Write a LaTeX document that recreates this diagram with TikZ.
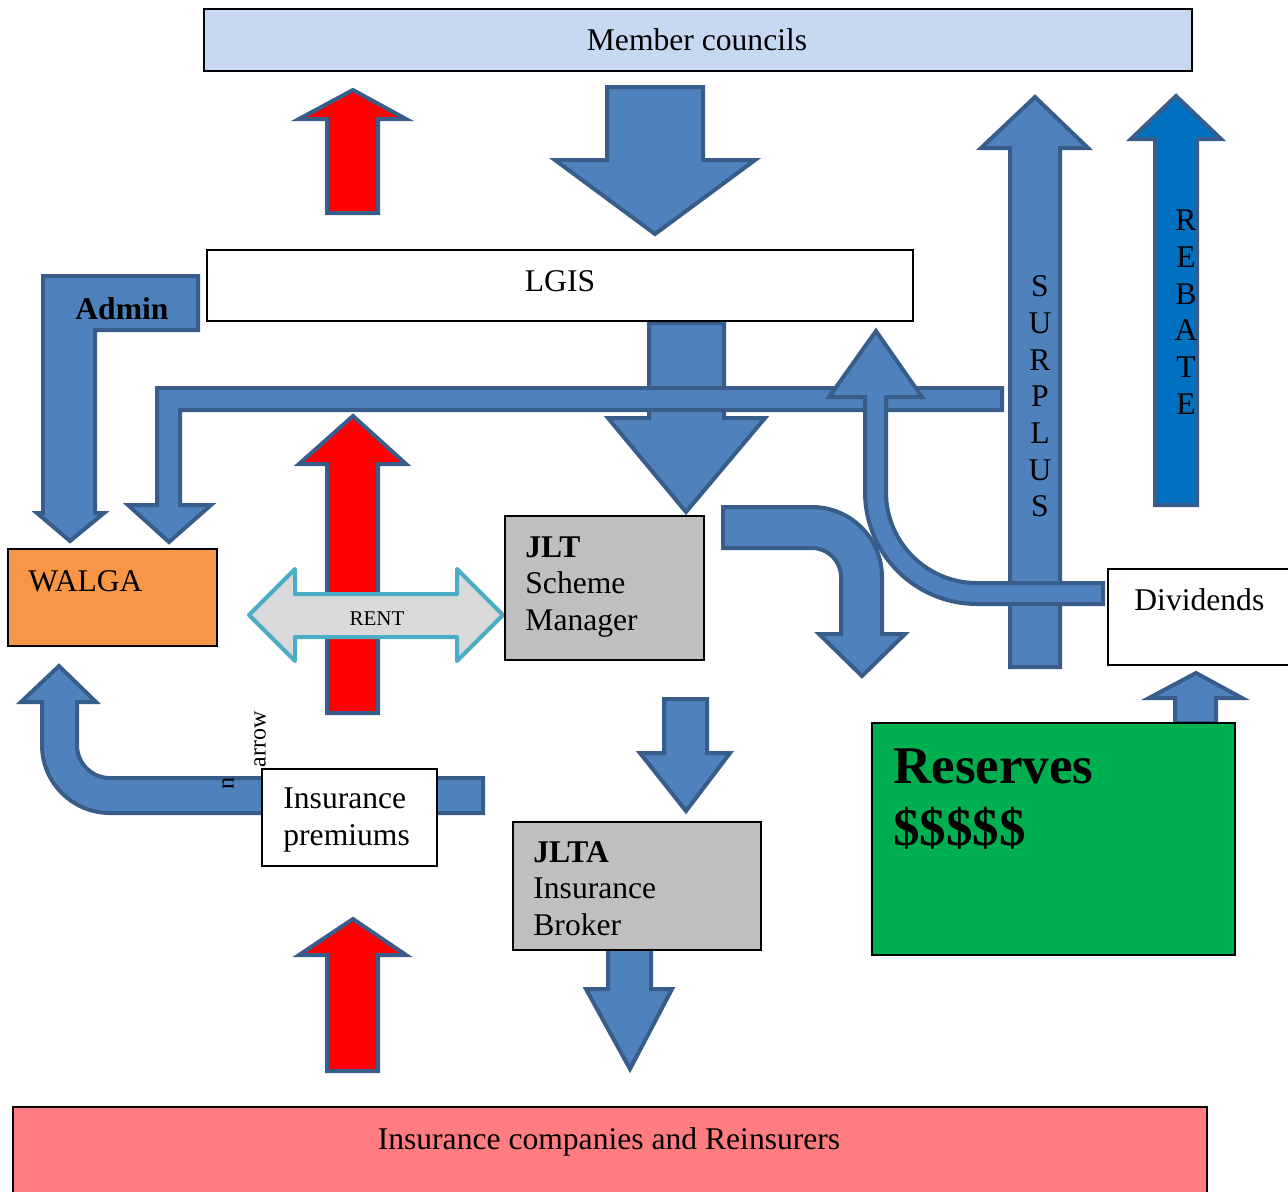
\documentclass[tikz,border=0pt]{standalone}
\usepackage{fontspec}
\setmainfont{Liberation Serif}
\usepackage{tikz}
\definecolor{councilblue}{HTML}{C6D9F1}
\definecolor{flowblue}{HTML}{4F81BD}
\definecolor{flowedge}{HTML}{385D8A}
\definecolor{rebateblue}{HTML}{0070C0}
\definecolor{walgaorange}{HTML}{F79646}
\definecolor{jltgray}{HTML}{BFBFBF}
\definecolor{reservegreen}{HTML}{00B050}
\definecolor{insurerpink}{HTML}{FF7C80}
\definecolor{rentgray}{HTML}{D9D9D9}
\definecolor{rentedge}{HTML}{4BACC6}

\begin{document}
\begin{tikzpicture}[x=0.5pt,y=-0.5pt,
    flow/.style={fill=flowblue,draw=flowedge,line width=2pt},
    redflow/.style={flow,fill=red},
    box/.style={draw=black,line width=0.7pt},
    txt/.style={inner sep=0pt,font=\fontsize{15.8}{18.35}\selectfont}]
    \useasboundingbox (0,0) rectangle (1288,1191);
    \clip (0,0) rectangle (1288,1191);
    % red arrows (left column)
    \draw[redflow] (327,213) -- (327,119) -- (299,119) -- (353,90) -- (406,119) -- (378,119) -- (378,213) -- cycle;
    \draw[redflow] (327,1071) -- (327,955) -- (299,955) -- (353,919) -- (406,955) -- (378,955) -- (378,1071) -- cycle;
    % councils -> LGIS
    \draw[flow] (607,87) -- (703,87) -- (703,160) -- (755,160) -- (655,234) -- (555,160) -- (607,160) -- cycle;
    % LGIS -> JLT
    \draw[flow] (649,323) -- (724,323) -- (724,418) -- (765,418) -- (686,512) -- (608,418) -- (649,418) -- cycle;
    % long bent arrow into WALGA
    \draw[flow] (1002,388) -- (1002,410) -- (180,410) -- (180,505) -- (211,505) -- (169,542) -- (128,505) -- (157,505) -- (157,388) -- cycle;
    % Admin
    \draw[flow] (43,276) -- (198,276) -- (198,330) -- (95,330) -- (95,513) -- (104,513) -- (70,541) -- (37,513) -- (43,513) -- cycle;
    \draw[redflow] (327,713) -- (327,464) -- (299,464) -- (353,416) -- (406,464) -- (378,464) -- (378,713) -- cycle;
    % RENT
    \draw[fill=rentgray,draw=rentedge,line width=2pt,line join=round] (249,615) -- (295,569) -- (295,594) -- (457,594) -- (457,569) -- (503,615) -- (457,661) -- (457,637) -- (295,637) -- (295,661) -- cycle;
    % surplus and rebate
    \draw[flow] (1010,667) -- (1010,148) -- (981,148) -- (1035,97) -- (1088,148) -- (1060,148) -- (1060,667) -- cycle;
    \draw[flow,fill=rebateblue] (1155,505) -- (1155,139) -- (1131,139) -- (1176,96) -- (1221,139) -- (1197,139) -- (1197,505) -- cycle;
    % JLT -> reserves
    \draw[flow] (723,507) -- (812,507) arc (-90:0:70) -- (882,634) -- (905,634) -- (862,676) -- (819,634) -- (841,634) -- (841,577) arc (0:-90:29) -- (723,548) -- cycle;
    % dividends -> LGIS
    \draw[flow] (1103,583) -- (977,583) arc (90:180:91) -- (886,397) -- (922,397) -- (876,331) -- (829,397) -- (865,397) -- (865,492) arc (180:90:112) -- (1103,604) -- cycle;
    % reserves -> dividends
    \draw[flow] (1175,723) -- (1175,698) -- (1149,698) -- (1196,673) -- (1242,698) -- (1216,698) -- (1216,723) -- cycle;
    % JLT -> JLTA -> insurers
    \draw[flow] (664,699) -- (707,699) -- (707,753) -- (730,753) -- (686,811) -- (640,753) -- (664,753) -- cycle;
    \draw[flow] (608,948) -- (651,948) -- (651,989) -- (672,989) -- (630,1069) -- (586,989) -- (608,989) -- cycle;
    % premiums -> WALGA
    \draw[flow] (483,778) -- (110,778) arc (90:180:33) -- (77,702) -- (96,702) -- (59,666) -- (21,702) -- (42,702) -- (42,745) arc (180:90:68) -- (483,813) -- cycle;
    % boxes
    \draw[box,fill=councilblue] (204,9) rectangle (1192,71);
    \draw[box,fill=white] (207,250) rectangle (913,321);
    \draw[box,fill=walgaorange] (8,549) rectangle (217,646);
    \draw[box,fill=jltgray] (505,516) rectangle (704,660);
    \fill[white] (1108,569) rectangle (1290,665);
    \draw[box] (1290,569) -- (1108,569) -- (1108,665) -- (1290,665);
    \draw[box,fill=reservegreen] (872,723) rectangle (1235,955);
    \draw[box,fill=white] (262,769) rectangle (437,866);
    \draw[box,fill=jltgray] (513,822) rectangle (761,950);
    \fill[insurerpink] (13,1107) rectangle (1207,1195);
    \draw[box] (13,1195) -- (13,1107) -- (1207,1107) -- (1207,1195);
    % texts
    \node[txt,anchor=base] (councils) at (697,50) {Member councils};
    \node[txt,anchor=base] (lgis) at (560,291) {LGIS};
    \node[txt,anchor=base west] (admin) at (75,319) {\textbf{Admin}};
    \node[txt,anchor=base west] (walga) at (28,591) {WALGA};
    \node[txt,anchor=base west] (jlt) at (525,557) {\textbf{JLT}};
    \node[txt,anchor=base west] (scheme) at (525,593.5) {Scheme};
    \node[txt,anchor=base west] (manager) at (525,630) {Manager};
    \node[txt,anchor=base] (rent) at (377,625) {\fontsize{10.5}{12}\selectfont RENT};
    \node[txt,anchor=base west] (dividends) at (1134,610) {Dividends};
    \node[txt,anchor=base west] (reserves) at (893,783) {\fontsize{26.5}{31}\selectfont\bfseries Reserves};
    \node[txt,anchor=base west] (dollars) at (893,845) {\fontsize{26.5}{31}\selectfont\bfseries \$\$\$\$\$};
    \node[txt,anchor=base west] (premiums1) at (283,808) {Insurance};
    \node[txt,anchor=base west] (premiums2) at (283,845) {premiums};
    \node[txt,anchor=base west] (jlta) at (533,862) {\textbf{JLTA}};
    \node[txt,anchor=base west] (broker1) at (533,898) {Insurance};
    \node[txt,anchor=base west] (broker2) at (533,935) {Broker};
    \node[txt,anchor=base] (insurers) at (609,1149) {Insurance companies and Reinsurers};
    \node[txt,align=center] (surplus) at (1040,396.5) {S\\U\\R\\P\\L\\U\\S};
    \node[txt,align=center] (rebate) at (1186,312) {R\\E\\B\\A\\T\\E};
    \node[txt,rotate=90,font=\fontsize{12}{14}\selectfont] (narrow1) at (228,783) {n};
    \node[txt,rotate=90,font=\fontsize{12}{14}\selectfont] (narrow2) at (260,739) {arrow};
\end{tikzpicture}
\end{document}
